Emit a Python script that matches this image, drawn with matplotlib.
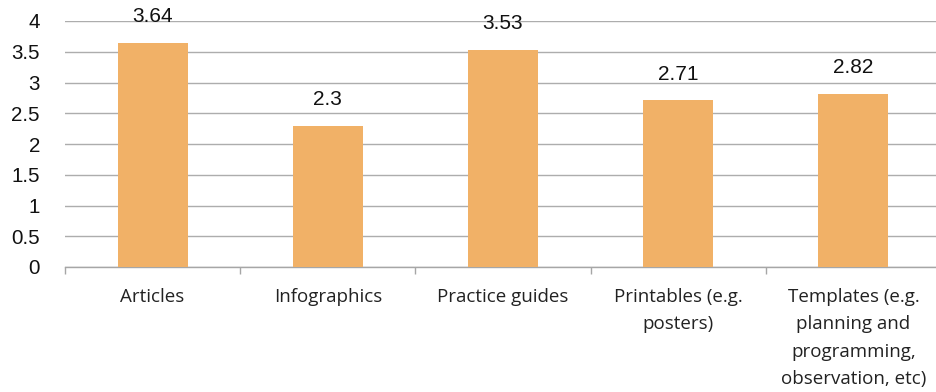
import matplotlib
matplotlib.use("Agg")
import matplotlib.pyplot as plt
import numpy as np

categories = ["Articles", "Infographics", "Practice guides",
              "Printables (e.g.\nposters)",
              "Templates (e.g.\nplanning and\nprogramming,\nobservation, etc)"]
values = [3.64, 2.3, 3.53, 2.71, 2.82]
value_labels = ["3.64", "2.3", "3.53", "2.71", "2.82"]
yticks = [0, 0.5, 1, 1.5, 2, 2.5, 3, 3.5, 4]
ytick_labels = ["0", "0.5", "1", "1.5", "2", "2.5", "3", "3.5", "4"]

fig = plt.figure(figsize=(9.36, 3.92), dpi=100)
ax = fig.add_axes([65/936, 125/392, 876/936, 246/392])

x = np.arange(len(categories))
bars = ax.bar(x, values, width=0.4, color="#F1B167", zorder=3)

ax.set_xlim(-0.5, len(categories) - 0.5)
ax.set_ylim(0, 4)
ax.set_yticks(yticks)
ax.set_yticklabels(ytick_labels, fontfamily="Liberation Sans", fontsize=14.8,
                   color="#111111")
ax.tick_params(axis="y", length=0, pad=18)

ax.set_xticks(x)
ax.set_xticklabels(categories, fontfamily="Open Sans", fontsize=13.5,
                   linespacing=1.68, color="#222222")
ax.set_xticks(np.arange(len(categories) + 1) - 0.5, minor=True)
ax.tick_params(axis="x", which="major", length=0, pad=15)
ax.tick_params(axis="x", which="minor", length=5, color="#A6A6A6", width=1)

ax.grid(axis="y", color="#ADADAD", linewidth=1, zorder=0)
for s in ["top", "right", "left"]:
    ax.spines[s].set_visible(False)
ax.spines["bottom"].set_color("#A6A6A6")
ax.spines["bottom"].set_linewidth(1)

for xi, v, lab in zip(x, values, value_labels):
    ax.annotate(lab, (xi, v), xytext=(0, 12), textcoords="offset points",
                ha="center", va="bottom", fontfamily="Liberation Sans",
                fontsize=15, color="#111111")

fig.savefig("out.png", dpi=100)
